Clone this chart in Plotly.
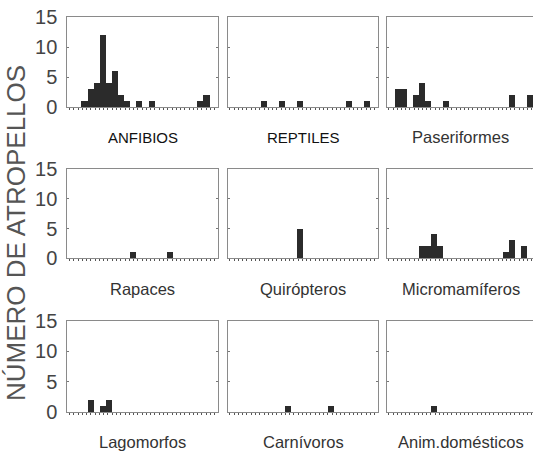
import plotly.graph_objects as go

periods = list(range(24))
anfibios       = [0,0,1,3,4,12,4,6,2,1,0,1,0,1,0,0,0,0,0,0,0,1,2,0]
reptiles       = [0,0,0,0,0,1,0,0,1,0,0,1,0,0,0,0,0,0,0,1,0,0,1,0]
paseriformes   = [0,3,3,0,2,4,1,0,0,1,0,0,0,0,0,0,0,0,0,0,2,0,0,2]
rapaces        = [0,0,0,0,0,0,0,0,0,0,1,0,0,0,0,0,1,0,0,0,0,0,0,0]
quiropteros    = [0,0,0,0,0,0,0,0,0,0,0,5,0,0,0,0,0,0,0,0,0,0,0,0]
micromamiferos = [0,0,0,0,0,2,2,4,2,0,0,0,0,0,0,0,0,0,0,1,3,0,2,0]
lagomorfos     = [0,0,0,2,0,1,2,0,0,0,0,0,0,0,0,0,0,0,0,0,0,0,0,0]
carnivoros     = [0,0,0,0,0,0,0,0,0,1,0,0,0,0,0,0,1,0,0,0,0,0,0,0]
domesticos     = [0,0,0,0,0,0,0,1,0,0,0,0,0,0,0,0,0,0,0,0,0,0,0,0]

series = [anfibios, reptiles, paseriformes,
          rapaces, quiropteros, micromamiferos,
          lagomorfos, carnivoros, domesticos]
labels = ["ANFIBIOS", "REPTILES", "Paseriformes",
          "Rapaces", "Quirópteros", "Micromamíferos",
          "Lagomorfos", "Carnívoros", "Anim.domésticos"]
y_ticks = [0, 5, 10, 15]
y_title = "NÚMERO DE ATROPELLOS"

W, H = 533, 455
col_px = [(67.3, 218.3), (227.7, 378.3), (386.7, 533.0)]
col_full_right = [218.3, 378.3, 535.0]
row_px = [(17, 107), (169, 258.3), (321, 412.3)]
xranges = [[-0.87, 23.88], [-0.87, 23.88], [-0.87, 23.52]]

FONT = "Liberation Sans, Arial, sans-serif"
BORDER = "#8a8a8a"
BAR = "#2b2b2b"

fig = go.Figure()
layout = dict(width=W, height=H, margin=dict(l=0, r=0, t=0, b=0, autoexpand=False),
              paper_bgcolor="white", plot_bgcolor="white",
              showlegend=False, bargap=0)
annotations = []

for k, vals in enumerate(series):
    r, c = divmod(k, 3)
    idx = k + 1
    xa = "x" if idx == 1 else f"x{idx}"
    ya = "y" if idx == 1 else f"y{idx}"
    fig.add_trace(go.Bar(x=periods, y=vals, xaxis=xa, yaxis=ya,
                         marker=dict(color=BAR, line=dict(width=0)),
                         width=1.0))
    x0, x1 = col_px[c]
    ytop, ybot = row_px[r]
    last = (c == 2)
    layout["xaxis" if idx == 1 else f"xaxis{idx}"] = dict(
        domain=[x0 / W, x1 / W], range=xranges[c], anchor=ya,
        automargin=False,
        showline=True, linecolor=BORDER, linewidth=1, mirror=True,
        showgrid=False, zeroline=False, showticklabels=False,
        ticks="outside", ticklen=2, tickcolor="#555", tick0=-0.5, dtick=0.7,
        fixedrange=True)
    layout["yaxis" if idx == 1 else f"yaxis{idx}"] = dict(
        domain=[1 - ybot / H, 1 - ytop / H], range=[0, 15], anchor=xa,
        automargin=False,
        showline=True, linecolor=BORDER, linewidth=1,
        mirror=False if last else "ticks",
        showgrid=False, zeroline=False,
        tickvals=y_ticks, ticks="inside", ticklen=2, tickcolor="#777",
        showticklabels=(c == 0),
        tickfont=dict(family=FONT, size=20, color="#444"),
        ticklabelstandoff=5,
        fixedrange=True)
    cx = (x0 + col_full_right[c]) / 2
    ly = [137, 289, 442][r]
    if r == 0 and c < 2:
        font = dict(family=FONT, size=15, color="#111")
    else:
        font = dict(family=FONT, size=16.5, color="#333")
    annotations.append(dict(text=labels[k], x=cx / W, y=1 - ly / H,
                            xref="paper", yref="paper", showarrow=False,
                            xanchor="center", yanchor="middle", font=font))

annotations.append(dict(text=y_title, x=16 / W, y=1 - 233 / H,
                        xref="paper", yref="paper", showarrow=False,
                        textangle=-90, xanchor="center", yanchor="middle",
                        font=dict(family=FONT, size=26, color="#555")))
layout["annotations"] = annotations
fig.update_layout(**layout)
fig.write_html("out.html")
